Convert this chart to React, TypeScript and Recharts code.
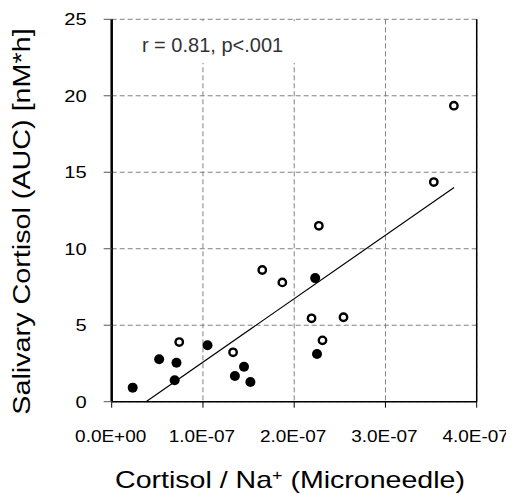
import React from 'react'
import { CartesianGrid, ReferenceArea, ReferenceLine, Scatter, ScatterChart, XAxis, YAxis } from 'recharts'

// filled markers
const filledX = [0.23e-7, 0.52e-7, 0.71e-7, 0.69e-7, 1.05e-7, 1.35e-7, 1.45e-7, 1.52e-7, 2.23e-7, 2.25e-7]
const filledY = [0.92, 2.77, 2.55, 1.4, 3.69, 1.68, 2.29, 1.29, 8.08, 3.12]

// open markers
const openX = [0.74e-7, 1.33e-7, 1.65e-7, 1.87e-7, 2.27e-7, 2.19e-7, 2.54e-7, 2.31e-7, 3.75e-7, 3.53e-7]
const openY = [3.9, 3.23, 8.61, 7.8, 11.5, 5.45, 5.52, 4.01, 19.35, 14.36]

// regression line end points
const trendX = [0.376e-7, 3.752e-7]
const trendY = [0, 14.0]

const xTicks = [0, 1e-7, 2e-7, 3e-7, 4e-7]
const yTicks = [0, 5, 10, 15, 20, 25]

const FONT = '"Liberation Sans", Arial, sans-serif'

const filledData = filledX.map((x, i) => ({ x, y: filledY[i] }))
const openData = openX.map((x, i) => ({ x, y: openY[i] }))

const sci = (v: number) => {
  if (v === 0) return '0.0E+00'
  const [m, e] = v.toExponential(1).split('e')
  const n = parseInt(e, 10)
  return m + 'E' + (n < 0 ? '-' : '+') + String(Math.abs(n)).padStart(2, '0')
}

const XTick = (props: any) => {
  const { x, y, payload } = props
  return (
    <g transform={`translate(${x - 1},${y + 34})`}>
      <text transform="scale(1.15,1)" textAnchor="middle" fontSize={16.5} fontFamily={FONT} fill="#000">
        {sci(payload.value)}
      </text>
    </g>
  )
}

const YTick = (props: any) => {
  const { x, y, payload } = props
  return (
    <g transform={`translate(${x - 17},${y + 5.8})`}>
      <text transform="scale(1.22,1)" textAnchor="end" fontSize={16.5} fontFamily={FONT} fill="#000">
        {payload.value}
      </text>
    </g>
  )
}

const FilledDot = (props: any) => <circle cx={props.cx} cy={props.cy} r={5} fill="#000" />
const OpenDot = (props: any) => (
  <circle cx={props.cx} cy={props.cy} r={3.7} fill="#fff" stroke="#000" strokeWidth={2.4} />
)

export default function App() {
  return (
    <ScatterChart width={506} height={486} margin={{ top: 11.3, right: 37.3, left: 0, bottom: 0 }}>
      <CartesianGrid stroke="#808080" strokeDasharray="5 3" />
      <ReferenceArea
        x1={0.09e-7}
        x2={2.06e-7}
        y1={22.14}
        y2={24.88}
        fill="#fff"
        fillOpacity={1}
        stroke="none"
        label={{
          content: (p: any) => (
            <text x={p.viewBox.x + 22} y={p.viewBox.y + 31} fontSize={20} fontFamily={FONT} fill="#333">
              r = 0.81, p&lt;.001
            </text>
          ),
        }}
      />
      <XAxis
        type="number"
        dataKey="x"
        domain={[0, 4e-7]}
        ticks={xTicks}
        height={92.3}
        tickSize={6}
        tickMargin={0}
        tick={XTick}
        axisLine={{ stroke: '#000', strokeWidth: 1.5 }}
        tickLine={{ stroke: '#000' }}
        label={{
          content: () => (
            <g transform="translate(282,479.7)">
              <text transform="scale(1.19,1)" textAnchor="middle" fontSize={24} fontFamily={FONT} fill="#000">
                Cortisol / Na<tspan fontSize={15} dy={-8}>+</tspan>
                <tspan dy={8}> (Microneedle)</tspan>
              </text>
            </g>
          ),
        }}
      />
      <YAxis
        type="number"
        dataKey="y"
        domain={[0, 25]}
        ticks={yTicks}
        width={103.7}
        tickSize={8}
        tickMargin={0}
        tick={YTick}
        axisLine={{ stroke: '#000', strokeWidth: 2.5 }}
        tickLine={{ stroke: '#555' }}
        label={{
          content: () => (
            <g transform="translate(22,213.5) rotate(-90)">
              <text transform="scale(1.25,1)" textAnchor="middle" fontSize={23} fontFamily={FONT} fill="#000">
                Salivary Cortisol (AUC) [nM*h]
              </text>
            </g>
          ),
        }}
      />
      <ReferenceLine x={4e-7} stroke="#000" strokeWidth={1.5} />
      <ReferenceLine
        segment={[
          { x: trendX[0], y: trendY[0] },
          { x: trendX[1], y: trendY[1] },
        ]}
        stroke="#000"
        strokeWidth={1.2}
      />
      <Scatter data={filledData} shape={FilledDot} isAnimationActive={false} />
      <Scatter data={openData} shape={OpenDot} isAnimationActive={false} />
    </ScatterChart>
  )
}
